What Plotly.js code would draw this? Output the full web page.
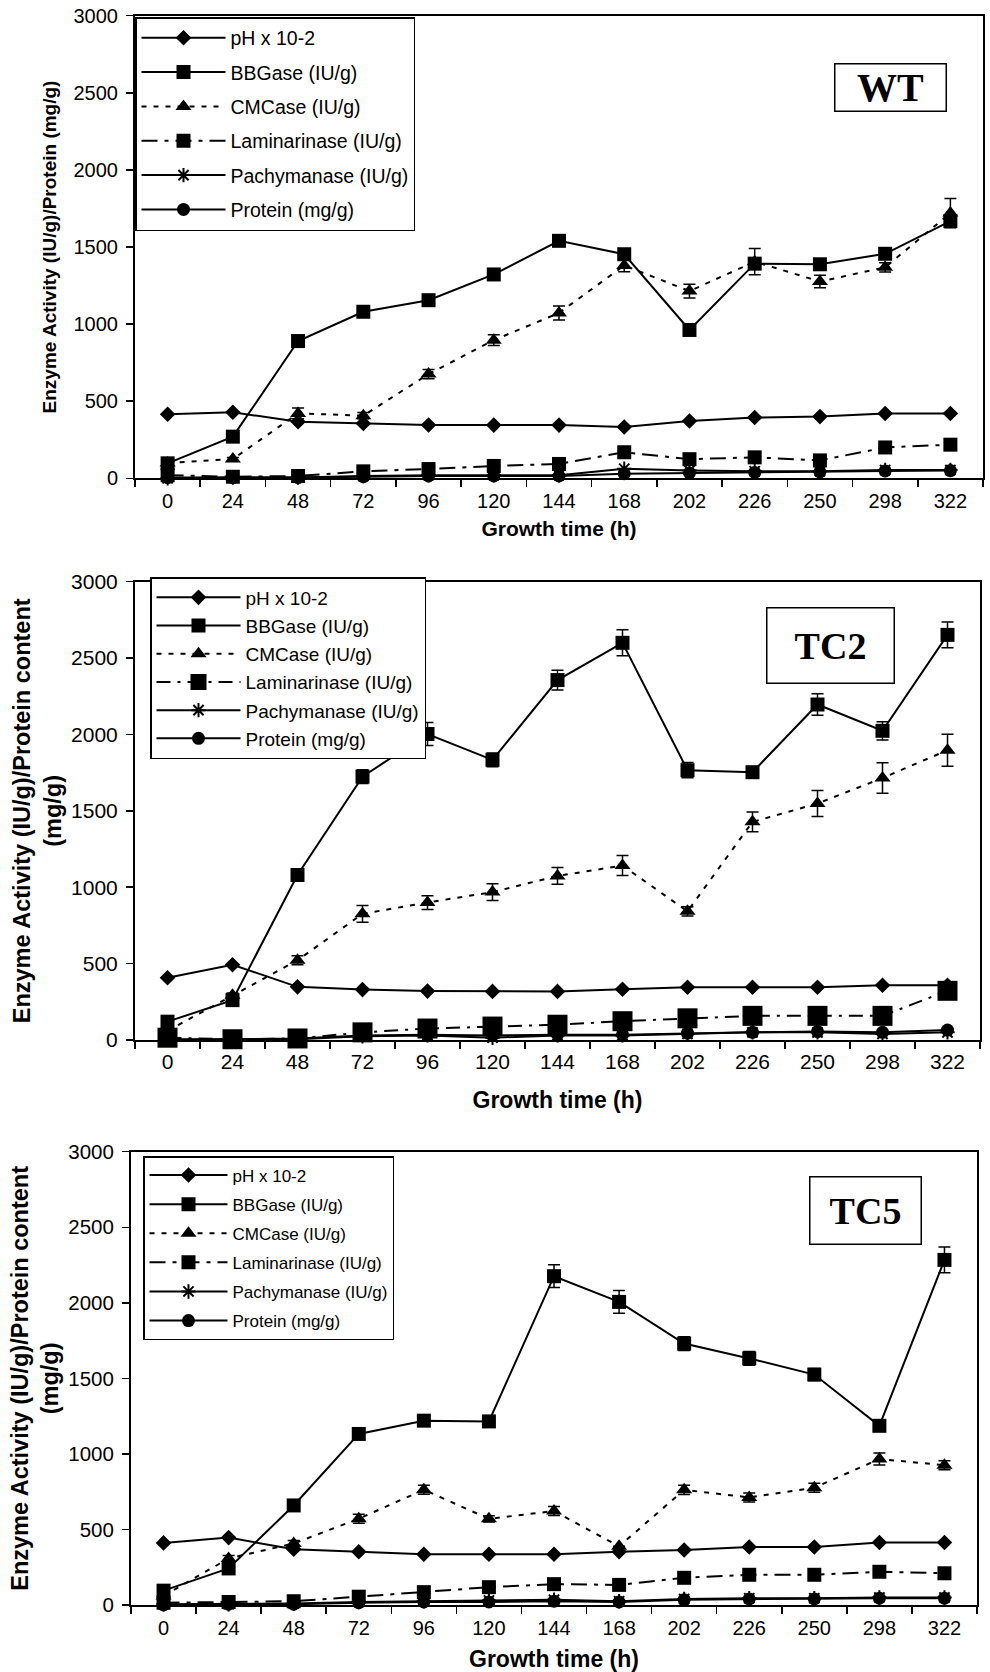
<!DOCTYPE html>
<html>
<head>
<meta charset="utf-8">
<script src="https://cdn.plot.ly/plotly-3.0.1.min.js"></script>
<style>html,body{margin:0;padding:0;background:#fff;}#chart{width:990px;height:1672px;}</style>
</head>
<body>
<div id="chart"></div>
<script>
// ---- Data ----
const times = ["0","24","48","72","96","120","144","168","202","226","250","298","322"];
const seriesNames = ["pH x 10-2","BBGase (IU/g)","CMCase (IU/g)","Laminarinase (IU/g)","Pachymanase (IU/g)","Protein (mg/g)"];
const panelLabels = ["WT","TC2","TC5"];

// WT
const wt_ph  = [415, 428, 367, 356, 346, 345, 345, 333, 372, 394, 400, 420, 420];
const wt_bbg = [97, 270, 890, 1080, 1155, 1322, 1540, 1453, 962, 1392, 1388, 1456, 1668];
const wt_cmc = [100, 125, 421, 406, 676, 896, 1072, 1380, 1214, 1405, 1276, 1368, 1720];
const wt_lam = [20, 10, 15, 45, 60, 80, 93, 169, 124, 136, 116, 200, 218];
const wt_pac = [0, 5, 5, 15, 20, 20, 20, 62, 50, 46, 46, 54, 54];
const wt_pro = [5, 5, 5, 10, 15, 15, 15, 30, 35, 38, 42, 48, 50];
const wt_bbg_err = [8, 10, 15, 15, 15, 15, 20, 25, 20, 25, 20, 20, 30];
const wt_cmc_err = [5, 10, 35, 20, 30, 35, 45, 40, 45, 85, 40, 30, 95];

// TC2
const tc2_ph  = [407, 493, 348, 330, 320, 318, 318, 332, 345, 345, 345, 358, 358];
const tc2_bbg = [120, 261, 1080, 1724, 2003, 1834, 2356, 2600, 1766, 1753, 2196, 2024, 2652];
const tc2_cmc = [60, 293, 522, 826, 900, 968, 1074, 1142, 842, 1428, 1548, 1715, 1897];
const tc2_lam = [15, 5, 10, 50, 75, 88, 100, 123, 142, 158, 158, 158, 322];
const tc2_pac = [5, 5, 5, 25, 30, 15, 30, 30, 40, 50, 50, 40, 50];
const tc2_pro = [0, 5, 10, 30, 35, 30, 35, 35, 45, 50, 55, 50, 65];
const tc2_bbg_err = [10, 15, 25, 45, 75, 45, 65, 85, 50, 35, 70, 60, 85];
const tc2_cmc_err = [5, 15, 30, 55, 45, 55, 55, 65, 30, 65, 85, 100, 105];

// TC5
const tc5_ph  = [411, 446, 369, 352, 336, 336, 336, 352, 364, 384, 384, 414, 414];
const tc5_bbg = [95, 242, 659, 1132, 1220, 1215, 2176, 2006, 1730, 1632, 1525, 1186, 2284];
const tc5_cmc = [60, 308, 407, 571, 763, 570, 622, 388, 762, 712, 776, 966, 925];
const tc5_lam = [15, 20, 25, 55, 85, 118, 138, 133, 180, 200, 200, 220, 210];
const tc5_pac = [5, 5, 10, 20, 25, 30, 35, 25, 40, 45, 45, 50, 50];
const tc5_pro = [0, 5, 5, 15, 20, 20, 25, 20, 35, 40, 40, 45, 45];
const tc5_bbg_err = [10, 15, 20, 20, 20, 20, 75, 75, 45, 45, 40, 20, 85];
const tc5_cmc_err = [5, 20, 20, 30, 30, 20, 30, 0, 30, 30, 30, 40, 30];

// ---- Styling ----
const FONT = "Liberation Sans, Arial, sans-serif";
const BLACK = "#000";

const panels = [
  {sfx:"",  leg:"legend",  ph:wt_ph,  bbg:wt_bbg,  cmc:wt_cmc,  lam:wt_lam,  pac:wt_pac,  pro:wt_pro,  bErr:wt_bbg_err,  cErr:wt_cmc_err,  lamSize:14, lamDash:"16px,7px,4px,7px"},
  {sfx:"2", leg:"legend2", ph:tc2_ph, bbg:tc2_bbg, cmc:tc2_cmc, lam:tc2_lam, pac:tc2_pac, pro:tc2_pro, bErr:tc2_bbg_err, cErr:tc2_cmc_err, lamSize:20, lamDash:"14px,7px,3px,7px"},
  {sfx:"3", leg:"legend3", ph:tc5_ph, bbg:tc5_bbg, cmc:tc5_cmc, lam:tc5_lam, pac:tc5_pac, pro:tc5_pro, bErr:tc5_bbg_err, cErr:tc5_cmc_err, lamSize:14, lamDash:"16px,7px,4px,7px"}
];

const traces = [];
panels.forEach((p, i) => {
  const xa = "x" + p.sfx, ya = "y" + p.sfx;
  const base = (name, y, sym, size, dash, grp) => ({
    type: "scatter", mode: "lines+markers", x: times, y: y, name: name,
    xaxis: xa, yaxis: ya, legend: p.leg, legendgroup: "g" + i + "_" + grp,
    cliponaxis: false,
    line: {color: BLACK, width: 2, dash: dash},
    marker: {symbol: sym, size: size, color: BLACK, line: {color: BLACK, width: 0}}
  });
  traces.push(base(seriesNames[0], p.ph, "diamond", 12, "solid", 0));
  const b = base(seriesNames[1], p.bbg, "square", 14, "solid", 1);
  b.error_y = {type: "data", array: p.bErr, visible: true, color: BLACK, thickness: 1.5, width: 6};
  traces.push(b);
  const c = base(seriesNames[2], p.cmc, "triangle-up", 14, "5px,7px", 2);
  c.error_y = {type: "data", array: p.cErr, visible: true, color: BLACK, thickness: 1.5, width: 6};
  traces.push(c);
  traces.push(base(seriesNames[3], p.lam, "square", p.lamSize, p.lamDash, 3));
  const pa = base(seriesNames[4], p.pac, "asterisk-open", 12, "solid", 4);
  pa.marker.line = {color: BLACK, width: 2};
  traces.push(pa);
  traces.push(base(seriesNames[5], p.pro, "circle", 13, "solid", 5));
});

const H = 1672, W = 990;
function xAxis(dom, anchor, tickSize, tickStand, titleSize, standoff) {
  return {
    domain: dom, anchor: anchor, type: "category", categoryorder: "array", categoryarray: times,
    range: [-0.5, 12.5], tickson: "boundaries", ticks: "outside", ticklen: 7, tickwidth: 1.5, tickcolor: BLACK,
    ticklabelstandoff: tickStand,
    showline: true, linecolor: BLACK, linewidth: 2, mirror: true, showgrid: false, zeroline: false,
    tickfont: {family: FONT, size: tickSize, color: BLACK},
    title: {text: "Growth time (h)", font: {family: FONT, size: titleSize, color: BLACK, weight: "bold"}, standoff: standoff},
    fixedrange: true
  };
}
function yAxis(dom, anchor, titleText, tickSize, titleSize, standoff) {
  return {
    domain: dom, anchor: anchor, range: [0, 3000], dtick: 500, tick0: 0,
    ticks: "outside", ticklen: 7, tickwidth: 1.5, tickcolor: BLACK, ticklabelstandoff: 4,
    showline: true, linecolor: BLACK, linewidth: 2, mirror: true, showgrid: false, zeroline: false,
    tickfont: {family: FONT, size: tickSize, color: BLACK},
    title: {text: titleText, font: {family: FONT, size: titleSize, color: BLACK, weight: "bold"}, standoff: standoff},
    fixedrange: true
  };
}
function legendBox(xpx, ypx, fsize, gap, iw) {
  return {
    x: xpx / W, y: 1 - ypx / H, xanchor: "left", yanchor: "top",
    bgcolor: "#fff", bordercolor: BLACK, borderwidth: 1.5,
    font: {family: FONT, size: fsize, color: BLACK},
    itemwidth: iw, tracegroupgap: gap, itemsizing: "trace", itemclick: false, itemdoubleclick: false
  };
}
function labelBox(text, cx, cy, w, h, fsize) {
  return {
    xref: "paper", yref: "paper", x: cx / W, y: 1 - cy / H, xanchor: "center", yanchor: "middle",
    text: "<b>" + text + "</b>", showarrow: false, width: w, height: h,
    bordercolor: BLACK, borderwidth: 1.5, bgcolor: "#fff", borderpad: 0,
    font: {family: "Liberation Serif, Times New Roman, serif", size: fsize, color: BLACK}
  };
}

const layout = {
  width: W, height: H, margin: {l: 0, r: 0, t: 0, b: 0},
  paper_bgcolor: "#fff", plot_bgcolor: "#fff", showlegend: true,
  xaxis:  xAxis([135 / W, 983 / W], "y", 20, 4, 21, 10),
  yaxis:  yAxis([1 - 478.3 / H, 1 - 15.7 / H], "x", "Enzyme Activity (IU/g)/Protein (mg/g)", 20, 19, 12),
  xaxis2: xAxis([135 / W, 980 / W], "y2", 21, 2, 23, 20),
  yaxis2: yAxis([1 - 1040 / H, 1 - 581.7 / H], "x2", "Enzyme Activity (IU/g)/Protein content<br>(mg/g)", 21, 23.5, 3),
  xaxis3: xAxis([131 / W, 977 / W], "y3", 20, 4, 23, 13),
  yaxis3: yAxis([1 - 1605 / H, 1 - 1151.7 / H], "x3", "Enzyme Activity (IU/g)/Protein content<br>(mg/g)", 20.5, 23.5, 3),
  legend:  legendBox(135, 17, 19.5, 6, 84),
  legend2: legendBox(150, 577, 19, 0.5, 84),
  legend3: legendBox(143, 1156, 17, 4, 78),
  annotations: [
    labelBox(panelLabels[0], 890, 87, 110, 46, 40),
    labelBox(panelLabels[1], 830, 645, 126, 74, 38),
    labelBox(panelLabels[2], 865, 1210, 110, 66, 38)
  ]
};

Plotly.newPlot("chart", traces, layout, {displayModeBar: false, staticPlot: true});
</script>
</body>
</html>
